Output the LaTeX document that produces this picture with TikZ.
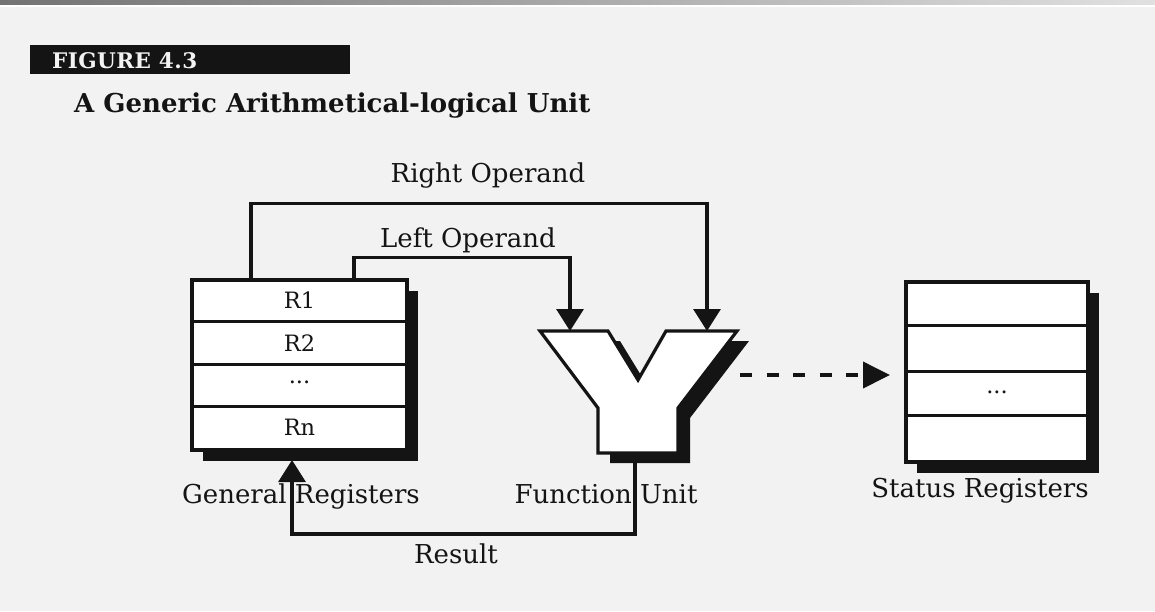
\documentclass[tikz,border=0pt]{standalone}
\usepackage{fontspec}
\setmainfont{DejaVu Serif}
\usetikzlibrary{arrows.meta,calc,shadows}

\definecolor{paper}{HTML}{F2F2F2}
\definecolor{inkc}{HTML}{141414}

\newcommand{\yfunnel}{(540,331) -- (608,331) -- (638,380) -- (666,331) -- (737,331)
  -- (678,408) -- (678,453) -- (598,453) -- (598,408) -- cycle}

\begin{document}
\begin{tikzpicture}[x=1pt,y=-1pt,
  ink/.style={draw=inkc, line width=3.2pt},
  regbox/.style={ink, fill=white, rectangle, inner sep=0pt,
    drop shadow={shadow xshift=11pt, shadow yshift=-11pt, opacity=1, fill=inkc}},
  rowline/.style={ink},
  cell/.style={font=\fontsize{22.5}{26}\selectfont, text=inkc, inner sep=0pt},
  lbl/.style={font=\fontsize{26}{30}\selectfont, text=inkc, inner sep=0pt},
  conn/.style={ink, line join=miter},
  arr/.style={-{Triangle[width=27pt,length=22pt]}},
  dotline/.style={draw=inkc, line width=3.8pt, dash pattern=on 12pt off 14.5pt,
    -{Triangle[width=26pt,length=27pt]}}
]
\useasboundingbox (0,0) rectangle (1155,611);

% page
\fill[paper] (0,0) rectangle (1155,611);
\shade[left color=black!55, right color=black!12] (0,0) rectangle (1155,5);
\fill[white] (0,5) rectangle (1155,7);

% heading
\node[fill=inkc, minimum width=320pt, minimum height=29pt, inner sep=0pt, anchor=north west]
  (figbar) at (30,45) {};
\node[anchor=base west, text=paper, inner sep=0pt,
  font=\fontsize{21.5}{24}\selectfont\bfseries\addfontfeatures{LetterSpace=2}]
  (figtag) at (52,68) {FIGURE 4.3};
\node[anchor=base west, text=inkc, inner sep=0pt,
  font=\fontsize{26}{30}\selectfont\bfseries]
  (title) at (74,112) {A Generic Arithmetical-logical Unit};

% general registers
\node[regbox, minimum width=215pt, minimum height=170pt] (gr) at (299.5,365) {};
\foreach \d in {43,86,128}
  \draw[rowline] ($(gr.north west)+(0,\d)$) -- ($(gr.north east)+(0,\d)$);
\node[cell] (r1) at ($(gr.north)+(0,21.5)$) {R1};
\node[cell] (r2) at ($(gr.north)+(0,64.5)$) {R2};
\node[cell] (rd) at ($(gr.north)+(0,104)$) {...};
\node[cell] (rn) at ($(gr.north)+(0,149)$) {Rn};

% status registers
\node[regbox, minimum width=182pt, minimum height=180pt] (sr) at (997,372) {};
\foreach \d in {45,91,135}
  \draw[rowline] ($(sr.north west)+(0,\d)$) -- ($(sr.north east)+(0,\d)$);
\node[cell] (sd) at ($(sr.north)+(0,112)$) {...};

% function unit
\fill[inkc, shift={(12,10)}] \yfunnel;
\filldraw[ink, fill=white, line join=miter] \yfunnel;
\coordinate (fuL) at (570,331);
\coordinate (fuR) at (707,331);
\coordinate (fuB) at (635,453);
\coordinate (fuOut) at (740,375);
\coordinate (srIn) at (890,375);
\coordinate (grIn) at (292,460);

% labels
\node[lbl, anchor=base] (lRight) at (488,182) {Right Operand};
\node[lbl, anchor=base] (lLeft) at (468,247) {Left Operand};
\node[lbl, anchor=base] (lGR) at (301,503) {General Registers};
\node[lbl, anchor=base] (lFU) at (606,503) {Function Unit};
\node[lbl, anchor=base] (lSR) at (980,497) {Status Registers};
\node[lbl, anchor=base] (lRes) at (456,563) {Result};

% data paths
\draw[conn, arr] ([xshift=-48.5pt]gr.north) -- ++(0,-75) -| (fuR);
\draw[conn, arr] ([xshift=54.5pt]gr.north) -- ++(0,-21) -| (fuL);
\draw[conn, arr] (fuB) -- ++(0,81) -| (grIn);
\draw[dotline] (fuOut) -- (srIn);
\end{tikzpicture}
\end{document}
